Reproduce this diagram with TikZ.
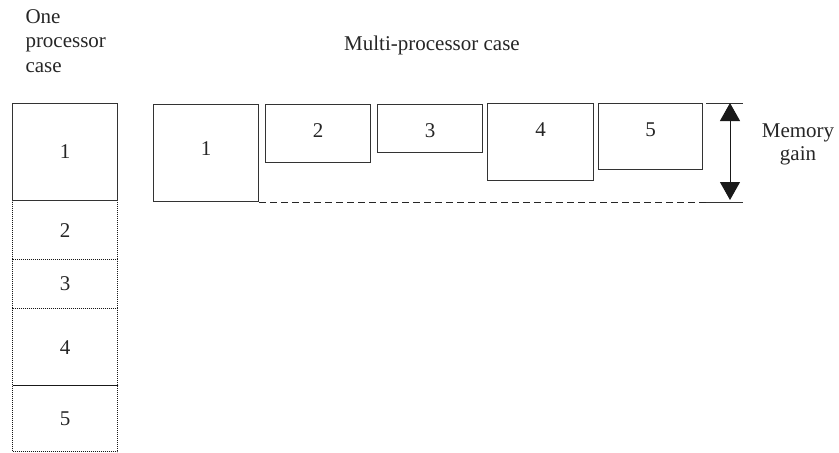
\documentclass[tikz,border=0pt]{standalone}
\usepackage{fontspec}
\setmainfont{Liberation Serif}
\usetikzlibrary{arrows.meta}
\begin{document}
\begin{tikzpicture}[x=1pt,y=-1pt,line width=1pt,
  every node/.style={text=black!85,font=\fontsize{21}{24.5}\selectfont},
  blk/.style={draw=black!80,inner sep=0pt,anchor=north west},
  slot/.style={blk,draw=black!90,line width=1.2pt,dash pattern=on 1pt off 1pt},
  tag/.style={anchor=base,inner sep=0pt},
  >={Triangle[width=20pt,length=18pt]}]
\useasboundingbox (0,0) rectangle (839,453);
% one processor case
\node[tag,anchor=base west,align=left] (one) at (25,72) {One\\processor\\case};
\node[slot,minimum width=105,minimum height=59] (s2) at (12,200) {2};
\node[slot,minimum width=105,minimum height=49] (s3) at (12,259) {3};
\node[slot,minimum width=105,minimum height=77] (s4) at (12,308) {4};
\node[slot,minimum width=105,minimum height=66] (s5) at (12,385) {5};
\node[blk,minimum width=105,minimum height=97] (s1) at (12,103) {1};
% multi-processor case
\node[tag] (multi) at (432,50) {Multi-processor case};
\node[blk,minimum width=105,minimum height=97] (m1) at (153,104) {};
\node[blk,minimum width=105,minimum height=58] (m2) at (265,104) {};
\node[blk,minimum width=105,minimum height=48] (m3) at (377,104) {};
\node[blk,minimum width=106,minimum height=77] (m4) at (487,103) {};
\node[blk,minimum width=104,minimum height=66] (m5) at (598,103) {};
\node[tag] at ([yshift=-51]m1.north) {1};
\foreach \i in {2,...,5}
  \node[tag] at ([yshift=-33]m\i.north) {\i};
% memory gain
\coordinate (gt) at (706,103);
\coordinate (gb) at (m1.south east -| gt);
\draw[black!80] (gt) -- ++(37,0);
\draw[black!85,dash pattern=on 7pt off 4pt] (m1.south east) -- (gb);
\draw[black!80] (gb) -- ++(37,0);
\coordinate (ga) at (730,103);
\coordinate (gz) at (730,200);
\draw[black!90,<->] (ga) -- (gz);
\node[tag,align=center] (gain) at (798,160) {Memory\\[-1.5pt]gain};
\end{tikzpicture}
\end{document}
